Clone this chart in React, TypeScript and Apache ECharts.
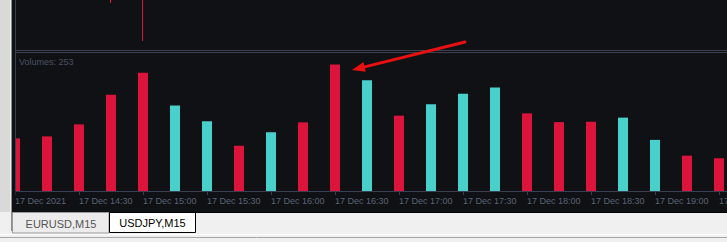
import React, { useEffect, useRef } from "react";
import * as echarts from "echarts";

const timeLabels = [
  "17 Dec 2021", "17 Dec 14:15", "17 Dec 14:30", "17 Dec 14:45", "17 Dec 15:00",
  "17 Dec 15:15", "17 Dec 15:30", "17 Dec 15:45", "17 Dec 16:00", "17 Dec 16:15",
  "17 Dec 16:30", "17 Dec 16:45", "17 Dec 17:00", "17 Dec 17:15", "17 Dec 17:30",
  "17 Dec 17:45", "17 Dec 18:00", "17 Dec 18:15", "17 Dec 18:30", "17 Dec 18:45",
  "17 Dec 19:00", "17 Dec 19:15", "17 Dec 19:30",
];

const volumes = [
  421, 437, 533, 771, 946, 684, 558, 362, 470, 549, 1013, 886,
  603, 694, 779, 829, 621, 551, 554, 587, 409, 283, 262,
];

// "d" = down (crimson), "u" = up (turquoise)
const barDirection = [
  "d", "d", "d", "d", "d", "u", "u", "d", "u", "d", "d", "u",
  "d", "u", "u", "u", "d", "d", "d", "u", "u", "d", "d",
];

// top (price) pane: only the lower wicks of two candles reach into view
const candleOpen = [
  113.62, 113.63, 113.64, 113.66, 113.70, 113.60, 113.62, 113.65, 113.63, 113.66, 113.68, 113.61,
  113.64, 113.62, 113.64, 113.66, 113.70, 113.68, 113.66, 113.63, 113.65, 113.68, 113.66,
];
const candleClose = [
  113.61, 113.62, 113.62, 113.64, 113.60, 113.62, 113.65, 113.63, 113.66, 113.64, 113.61, 113.64,
  113.62, 113.64, 113.66, 113.70, 113.68, 113.66, 113.64, 113.65, 113.68, 113.66, 113.65,
];
const candleLow = [
  113.58, 113.59, 113.60, 113.535, 113.345, 113.58, 113.60, 113.61, 113.60, 113.62, 113.58, 113.59,
  113.60, 113.60, 113.62, 113.64, 113.65, 113.64, 113.62, 113.61, 113.63, 113.64, 113.63,
];
const candleHigh = [
  113.64, 113.65, 113.66, 113.68, 113.72, 113.64, 113.67, 113.67, 113.68, 113.68, 113.70, 113.66,
  113.66, 113.66, 113.68, 113.72, 113.73, 113.70, 113.68, 113.68, 113.70, 113.70, 113.68,
];

const volumeLabel = "Volumes: 253";
const tabLabels = ["EURUSD,M15", "USDJPY,M15"];

const RED = "#dc143c";
const CYAN = "#48d1cc";
const BG = "#101115";
const BORDER = "#3a4050";
const FONT = "Liberation Sans";

export default function App() {
  const ref = useRef<HTMLDivElement>(null);

  useEffect(() => {
    if (!ref.current) return;
    const chart = echarts.init(ref.current, undefined, { renderer: "svg" });

    const candleData = candleOpen.map((o, i) => [o, candleClose[i], candleLow[i], candleHigh[i]]);
    const volData = volumes.map((v, i) => ({
      value: v,
      itemStyle: { color: barDirection[i] === "u" ? CYAN : RED },
    }));

    // arrow geometry (annotation)
    const tail = [465, 42];
    const tip = [352, 70];
    const dx = tip[0] - tail[0];
    const dy = tip[1] - tail[1];
    const len = Math.sqrt(dx * dx + dy * dy);
    const ux = dx / len;
    const uy = dy / len;
    const headLen = 13;
    const headHalf = 5;
    const bx = tip[0] - ux * headLen;
    const by = tip[1] - uy * headLen;

    chart.setOption({
      animation: false,
      backgroundColor: BG,
      grid: [
        { left: -1, width: 736, top: 0, height: 50, show: false, containLabel: false, outerBoundsMode: "none" },
        { left: -1, width: 736, top: 52, height: 139, show: false, containLabel: false, outerBoundsMode: "none" },
      ],
      xAxis: [
        {
          type: "category",
          gridIndex: 0,
          data: timeLabels,
          show: false,
        },
        {
          type: "category",
          gridIndex: 1,
          data: timeLabels,
          axisLine: { show: true, lineStyle: { color: BORDER, width: 1 } },
          axisTick: {
            show: true,
            alignWithLabel: true,
            interval: 1,
            length: 4,
            lineStyle: { color: BORDER },
          },
          axisLabel: {
            interval: 1,
            align: "left",
            color: "#5a6373",
            fontSize: 9,
            fontFamily: FONT,
            margin: 5,
            hideOverlap: false,
          },
          splitLine: { show: false },
        },
      ],
      yAxis: [
        {
          type: "value",
          gridIndex: 0,
          min: 113.3,
          max: 113.55,
          show: false,
          splitLine: { show: false },
        },
        {
          type: "value",
          gridIndex: 1,
          min: 0,
          max: 1112,
          show: false,
          splitLine: { show: false },
        },
      ],
      series: [
        {
          type: "candlestick",
          xAxisIndex: 0,
          yAxisIndex: 0,
          data: candleData,
          barWidth: 10,
          clip: true,
          itemStyle: {
            color: CYAN,
            color0: RED,
            borderColor: CYAN,
            borderColor0: RED,
            borderWidth: 1,
          },
        },
        {
          type: "bar",
          xAxisIndex: 1,
          yAxisIndex: 1,
          data: volData,
          barWidth: 10,
        },
      ],
      graphic: [
        // left side strip
        { type: "rect", z: 100, shape: { x: 0, y: 0, width: 10, height: 212 }, style: { fill: "#d9d9d9" } },
        { type: "rect", z: 100, shape: { x: 10, y: 0, width: 2, height: 212 }, style: { fill: "#ededed" } },
        { type: "rect", z: 100, shape: { x: 12, y: 0, width: 3.5, height: 212 }, style: { fill: BG } },
        { type: "line", z: 101, shape: { x1: 15.5, y1: 0, x2: 15.5, y2: 191 }, style: { stroke: BORDER, lineWidth: 1 } },
        // pane separators
        { type: "line", z: 101, shape: { x1: 15, y1: 50.5, x2: 727, y2: 50.5 }, style: { stroke: BORDER, lineWidth: 1 } },
        { type: "line", z: 101, shape: { x1: 15, y1: 52.5, x2: 727, y2: 52.5 }, style: { stroke: BORDER, lineWidth: 1 } },
        // indicator caption
        {
          type: "text",
          z: 101,
          x: 19,
          y: 61.5,
          style: { text: volumeLabel, fill: "#4a5262", font: `9px "${FONT}"`, verticalAlign: "middle", align: "left" },
        },
        // arrow annotation
        {
          type: "line",
          z: 102,
          shape: { x1: tail[0], y1: tail[1], x2: bx + ux * 2, y2: by + uy * 2 },
          style: { stroke: "#e81010", lineWidth: 3, lineCap: "round" },
        },
        {
          type: "polygon",
          z: 102,
          shape: {
            points: [
              [tip[0], tip[1]],
              [bx - uy * headHalf, by + ux * headHalf],
              [bx + uy * headHalf, by - ux * headHalf],
            ],
          },
          style: { fill: "#e81010" },
        },
        // bottom tab area
        { type: "rect", z: 100, shape: { x: 0, y: 212, width: 727, height: 30 }, style: { fill: "#f0f0f0" } },
        { type: "line", z: 101, shape: { x1: 12, y1: 212.5, x2: 727, y2: 212.5 }, style: { stroke: "#000000", lineWidth: 1 } },
        { type: "line", z: 101, shape: { x1: 11.5, y1: 0, x2: 11.5, y2: 231 }, style: { stroke: "#8c8c8c", lineWidth: 1 } },
        { type: "line", z: 101, shape: { x1: 0, y1: 234.5, x2: 727, y2: 234.5 }, style: { stroke: "#ffffff", lineWidth: 1 } },
        { type: "line", z: 101, shape: { x1: 0, y1: 237.5, x2: 727, y2: 237.5 }, style: { stroke: "#a8a8a8", lineWidth: 1 } },
        {
          type: "rect",
          z: 102,
          shape: { x: 12.5, y: 212.5, width: 96.5, height: 20.5 },
          style: { fill: "#ececec", stroke: "#9a9a9a", lineWidth: 1 },
        },
        {
          type: "text",
          z: 103,
          x: 61,
          y: 224,
          style: { text: tabLabels[0], fill: "#555555", font: `11px "${FONT}"`, align: "center", verticalAlign: "middle" },
        },
        {
          type: "rect",
          z: 104,
          shape: { x: 109.5, y: 212.5, width: 86, height: 20 },
          style: { fill: "#ffffff", stroke: "#000000", lineWidth: 1 },
        },
        {
          type: "text",
          z: 105,
          x: 152.5,
          y: 222.5,
          style: { text: tabLabels[1], fill: "#000000", font: `11px "${FONT}"`, align: "center", verticalAlign: "middle" },
        },
      ],
    });

    return () => chart.dispose();
  }, []);

  return (
    <div
      ref={ref}
      style={{ position: "fixed", left: 0, top: 0, width: 727, height: 242 }}
    />
  );
}
